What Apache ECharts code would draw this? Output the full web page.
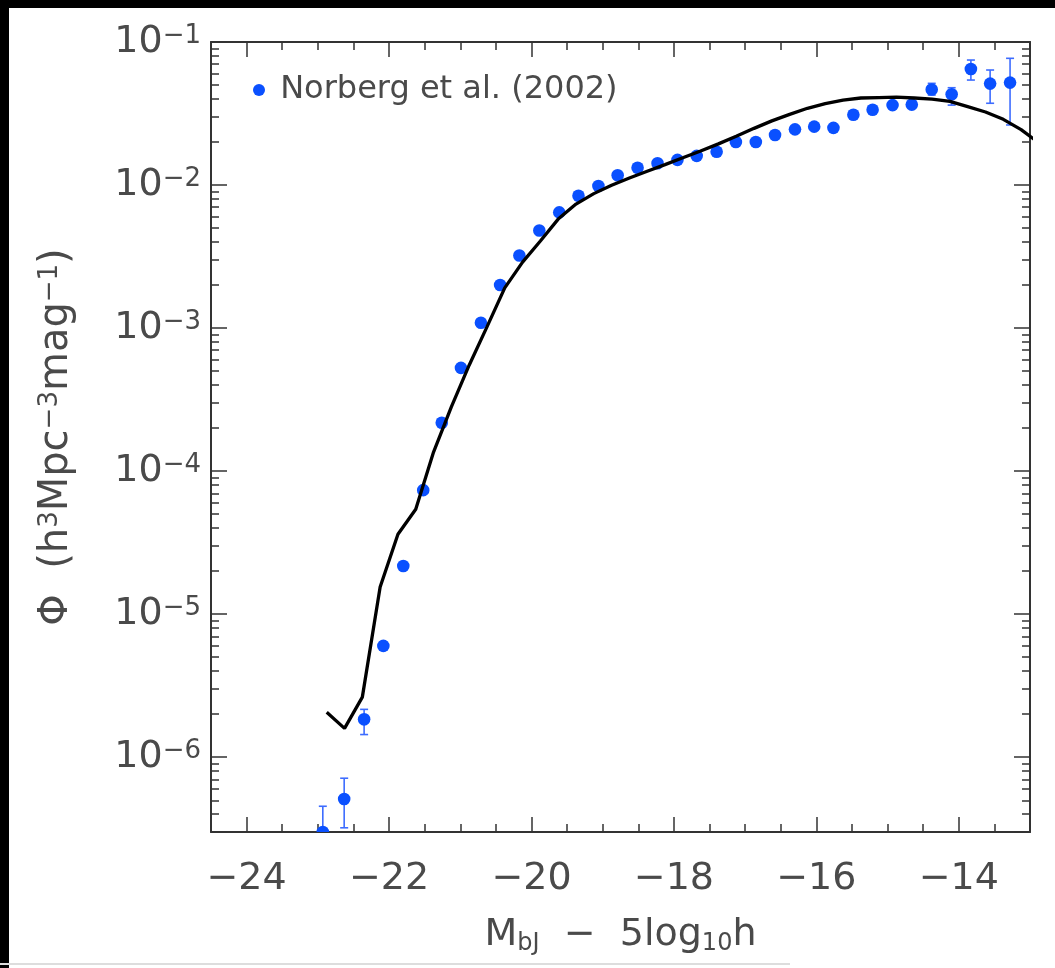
<!DOCTYPE html>
<html>
<head>
<meta charset="utf-8">
<script src="https://cdn.jsdelivr.net/npm/echarts@6.0.0/dist/echarts.min.js"></script>
<style>
html, body { margin: 0; padding: 0; background: #000; }
#wrap { position: relative; width: 1055px; height: 968px; background: #000; overflow: hidden; }
#chart { position: absolute; left: 9px; top: 8px; width: 1046px; height: 960px; background: #fff; }
#edge { position: absolute; left: 0; top: 963px; width: 790px; height: 2px; background: #ddd; }
</style>
</head>
<body>
<div id="wrap">
    <div id="chart"></div>
    <div id="edge"></div>
</div>
<script>
// Norberg et al. (2002) bJ luminosity function
const magBins = [-22.93, -22.63, -22.35, -22.08, -21.80, -21.52, -21.26, -20.99, -20.71, -20.44,
    -20.17, -19.89, -19.61, -19.34, -19.06, -18.79, -18.51, -18.23, -17.95, -17.68,
    -17.40, -17.13, -16.85, -16.58, -16.30, -16.03, -15.76, -15.48, -15.21, -14.93,
    -14.66, -14.38, -14.10, -13.83, -13.56, -13.28]
const phiValues = [3.0e-7, 5.1e-7, 1.84e-6, 6.0e-6, 2.17e-5, 7.36e-5, 2.18e-4, 5.27e-4, 1.09e-3, 2.0e-3,
    3.22e-3, 4.81e-3, 6.44e-3, 8.41e-3, 9.84e-3, 1.17e-2, 1.32e-2, 1.42e-2, 1.50e-2, 1.60e-2,
    1.71e-2, 2.0e-2, 2.0e-2, 2.24e-2, 2.45e-2, 2.56e-2, 2.51e-2, 3.10e-2, 3.36e-2, 3.62e-2,
    3.65e-2, 4.65e-2, 4.31e-2, 6.47e-2, 5.12e-2, 5.2e-2]
const phiErrLow = [1.0e-7, 3.21e-7, 1.44e-6, 5.6e-6, null, null, null, null, null, null,
    null, null, null, null, null, null, null, null, null, null,
    null, null, null, null, null, null, null, null, null, null,
    null, 4.26e-2, 3.62e-2, 5.42e-2, 3.73e-2, 2.63e-2]
const phiErrHigh = [4.54e-7, 7.13e-7, 2.16e-6, 6.4e-6, null, null, null, null, null, null,
    null, null, null, null, null, null, null, null, null, null,
    null, null, null, null, null, null, null, null, null, null,
    null, 5.14e-2, 4.79e-2, 7.48e-2, 6.37e-2, 7.69e-2]

// model curve
const modelMag = [-22.875, -22.625, -22.375, -22.125, -21.875, -21.625, -21.375, -21.125, -20.875, -20.625,
    -20.375, -20.125, -19.875, -19.625, -19.375, -19.125, -18.875, -18.625, -18.375, -18.125,
    -17.875, -17.625, -17.375, -17.125, -16.875, -16.625, -16.375, -16.125, -15.875, -15.625,
    -15.375, -15.125, -14.875, -14.625, -14.375, -14.125, -13.875, -13.625, -13.375, -13.125, -12.875]
const modelPhi = [2.06e-6, 1.59e-6, 2.63e-6, 1.55e-5, 3.62e-5, 5.42e-5, 1.36e-4, 2.81e-4, 5.50e-4, 1.02e-3,
    1.91e-3, 2.89e-3, 4.06e-3, 5.78e-3, 7.36e-3, 8.71e-3, 9.97e-3, 1.12e-2, 1.25e-2, 1.39e-2,
    1.55e-2, 1.73e-2, 1.94e-2, 2.19e-2, 2.49e-2, 2.81e-2, 3.12e-2, 3.44e-2, 3.71e-2, 3.92e-2,
    4.06e-2, 4.09e-2, 4.12e-2, 4.06e-2, 3.99e-2, 3.84e-2, 3.53e-2, 3.24e-2, 2.88e-2, 2.44e-2, 1.97e-2]

const xTickLabels = [-24, -22, -20, -18, -16, -14]
const yDecades = [-6, -5, -4, -3, -2, -1]

const legendName = 'Norberg et al. (2002)'
const font = 'DejaVu Sans'
const axisColor = '#333'
const textColor = '#4a4a4a'
const dotColor = '#0a50ff'
const barColor = '#3d6cff'

const chart = echarts.init(document.getElementById('chart'))

function xLabel (v) {
    const hit = xTickLabels.find(t => Math.abs(t - v) < 1e-6)
    return hit === undefined ? '' : '−' + Math.abs(hit)
}

function yLabel (v) {
    const e = Math.log10(v)
    const hit = yDecades.find(d => Math.abs(d - e) < 1e-6)
    return hit === undefined ? '' : '{b|10}{s|−' + Math.abs(hit) + '}'
}

const xCommon = {
    type: 'value',
    min: -24.5,
    max: -13,
    splitNumber: 6,
    minInterval: 2,
    maxInterval: 2,
    splitLine: { show: false },
    axisLine: { show: true, onZero: false, lineStyle: { color: axisColor, width: 2 } },
    axisTick: { show: true, inside: true, length: 15, lineStyle: { color: axisColor, width: 1.5 } },
    minorTick: { show: true, splitNumber: 4, length: 8, lineStyle: { color: axisColor, width: 1.5 } }
}

const yCommon = {
    type: 'log',
    logBase: 10,
    min: 3e-7,
    max: 0.1,
    splitLine: { show: false },
    axisLine: { show: true, onZero: false, lineStyle: { color: axisColor, width: 2 } },
    axisTick: { show: true, inside: true, length: 16, lineStyle: { color: axisColor, width: 1.5 } },
    minorTick: { show: true, splitNumber: 9, length: 8, lineStyle: { color: axisColor, width: 1.5 } }
}

const option = {
    animation: false,
    backgroundColor: '#fff',
    grid: {
        left: 202,
        right: 25,
        top: 34,
        bottom: 136,
        containLabel: false,
        outerBoundsMode: 'none'
    },
    legend: {
        left: 244,
        top: 66,
        padding: 0,
        itemWidth: 12,
        itemHeight: 12,
        formatter: ' {name}',
        textStyle: { fontFamily: font, fontSize: 32, color: textColor },
        data: [{ name: legendName, icon: 'circle' }]
    },
    xAxis: [
        Object.assign({}, xCommon, {
            position: 'bottom',
            axisLabel: {
                formatter: xLabel,
                margin: 28,
                fontFamily: font,
                fontSize: 38,
                color: textColor
            },
            name: '{t|M}{u|bJ}{t|  −  5log}{u|10}{t|h}',
            nameLocation: 'middle',
            nameGap: 84,
            nameTextStyle: {
                fontFamily: font,
                color: textColor,
                rich: {
                    t: { fontFamily: font, fontSize: 38, lineHeight: 40, color: textColor, verticalAlign: 'top', padding: [0, 0, 10, 0] },
                    u: { fontFamily: font, fontSize: 24, lineHeight: 24, color: textColor, verticalAlign: 'bottom' }
                }
            }
        }),
        Object.assign({}, xCommon, {
            position: 'top',
            axisLabel: { show: false }
        })
    ],
    yAxis: [
        Object.assign({}, yCommon, {
            position: 'left',
            axisLabel: {
                formatter: yLabel,
                margin: 10,
                fontFamily: font,
                color: textColor,
                rich: {
                    b: { fontFamily: font, fontSize: 38, lineHeight: 38, color: textColor, verticalAlign: 'bottom', padding: [10, 0, 0, 0] },
                    s: { fontFamily: font, fontSize: 26, lineHeight: 26, color: textColor, verticalAlign: 'top' }
                }
            },
            name: '{t|Φ  (h}{p|3}{t|Mpc}{p|−3}{t|mag}{p|−1}{t|)}',
            nameLocation: 'middle',
            nameRotate: 90,
            nameGap: 134,
            nameTextStyle: {
                fontFamily: font,
                color: textColor,
                rich: {
                    t: { fontFamily: font, fontSize: 40, lineHeight: 40, color: textColor, verticalAlign: 'bottom', padding: [10, 0, 0, 0] },
                    p: { fontFamily: font, fontSize: 26, lineHeight: 26, color: textColor, verticalAlign: 'top' }
                }
            }
        }),
        Object.assign({}, yCommon, {
            position: 'right',
            axisLabel: { show: false }
        })
    ],
    series: [
        {
            name: legendName,
            type: 'custom',
            clip: true,
            xAxisIndex: 0,
            yAxisIndex: 0,
            itemStyle: { color: dotColor },
            encode: { x: 0, y: 1 },
            data: magBins.map((m, i) => [m, phiValues[i],
                phiErrLow[i] == null ? '-' : phiErrLow[i],
                phiErrHigh[i] == null ? '-' : phiErrHigh[i]]),
            renderItem: function (params, api) {
                const x = api.value(0)
                const c = api.coord([x, api.value(1)])
                const lo = api.value(2)
                const hi = api.value(3)
                const children = []
                if (isFinite(lo) && isFinite(hi) && lo > 0 && hi > 0) {
                    const a = api.coord([x, hi])
                    const b = api.coord([x, lo])
                    const line = { stroke: barColor, lineWidth: 1.6 }
                    children.push({ type: 'line', shape: { x1: a[0], y1: a[1], x2: b[0], y2: b[1] }, style: line })
                    children.push({ type: 'line', shape: { x1: a[0] - 4, y1: a[1], x2: a[0] + 4, y2: a[1] }, style: line })
                    children.push({ type: 'line', shape: { x1: b[0] - 4, y1: b[1], x2: b[0] + 4, y2: b[1] }, style: line })
                }
                children.push({ type: 'circle', shape: { cx: c[0], cy: c[1], r: 6.3 }, style: { fill: dotColor } })
                return { type: 'group', children: children }
            }
        },
        {
            name: 'model',
            type: 'line',
            xAxisIndex: 0,
            yAxisIndex: 0,
            clip: true,
            z: 5,
            symbol: 'none',
            smooth: false,
            lineStyle: { color: '#000', width: 3.3 },
            data: modelMag.map((m, i) => [m, modelPhi[i]])
        }
    ]
}

chart.setOption(option)
</script>
</body>
</html>
